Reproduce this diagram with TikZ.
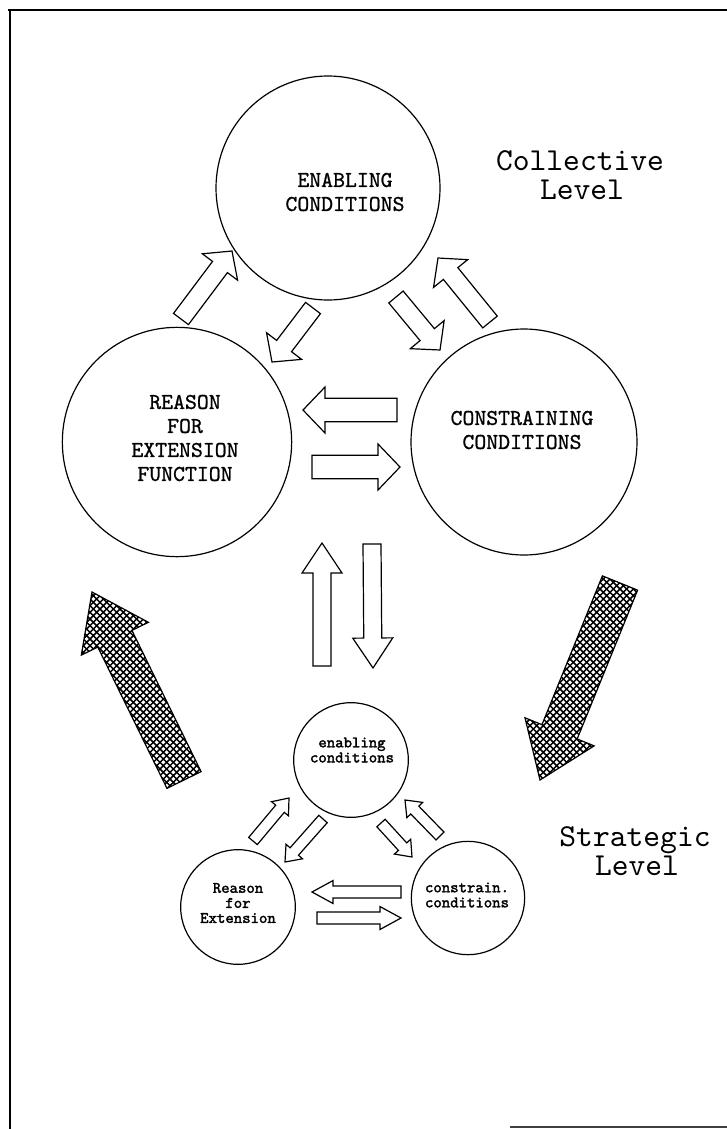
\documentclass[tikz,border=0pt]{standalone}
\usepackage{fontspec}
\newfontfamily\lmcap{lmmono10-regular.otf}[FakeBold=0.9]
\newfontfamily\lmsmall{lmmono10-regular.otf}[FakeBold=2]
\newfontfamily\lmlevel{lmmono10-regular.otf}
\usetikzlibrary{calc,patterns}
\pgfdeclarepatternformonly{xhatch}{\pgfqpoint{-0.5pt}{-0.5pt}}{\pgfqpoint{5.5pt}{5.5pt}}{\pgfqpoint{5pt}{5pt}}{%
  \pgfsetlinewidth{1.1pt}%
  \pgfpathmoveto{\pgfqpoint{-0.5pt}{-0.5pt}}\pgfpathlineto{\pgfqpoint{5.5pt}{5.5pt}}%
  \pgfpathmoveto{\pgfqpoint{-0.5pt}{5.5pt}}\pgfpathlineto{\pgfqpoint{5.5pt}{-0.5pt}}%
  \pgfusepath{stroke}}
% #1 style, #2 tail, #3 tip, #4 shaft half width, #5 head half width, #6 head length
\newcommand\blockarrow[6]{%
  \path (#2) coordinate (ba-a) (#3) coordinate (ba-b);
  \path ($(ba-b)!#6!(ba-a)$) coordinate (ba-h);
  \draw[#1] ($(ba-a)!#4!90:(ba-b)$) -- ($(ba-h)!#4!90:(ba-b)$) -- ($(ba-h)!#5!90:(ba-b)$)
    -- (ba-b) -- ($(ba-h)!#5!-90:(ba-b)$) -- ($(ba-h)!#4!-90:(ba-b)$)
    -- ($(ba-a)!#4!-90:(ba-b)$) -- cycle;}
\tikzset{
  bigcirc/.style={draw, circle, line width=0.9pt, inner sep=0pt},
  bigtxt/.style={font=\lmcap\fontsize{17}{18}\selectfont, align=center, inner sep=0pt},
  smalltxt/.style={font=\lmsmall\fontsize{12}{11.3}\selectfont, align=center, inner sep=0pt},
  leveltxt/.style={font=\lmlevel\fontsize{24}{24}\selectfont, inner sep=0pt, anchor=base},
  openarrow/.style={draw, fill=white, line width=0.9pt, line join=miter},
  hatcharrow/.style={draw, pattern=xhatch, line width=0.9pt, line join=miter},
}
\begin{document}
\begin{tikzpicture}[x=0.75pt, y=-0.75pt]
\useasboundingbox (0,0) rectangle (727,1129);
% frame
\draw[line width=1.6pt] (8,10) -- (727,10);
\draw[line width=1.6pt] (10,9) -- (10,1129);
\draw[line width=1.2pt, black!75] (510,1127) -- (727,1127);

% big circles
\node[bigcirc, minimum size=168pt] (EN) at (328,188) {};
\node[bigcirc, minimum size=172pt] (RE) at (177,442) {};
\node[bigcirc, minimum size=169.5pt] (CO) at (524,442) {};
\node[bigtxt] (ENt) at (345,192) {ENABLING\\CONDITIONS};
\node[bigtxt] (REt) at (185,438) {REASON\\FOR\\EXTENSION\\FUNCTION};
\node[bigtxt] (COt) at (522,430) {CONSTRAINING\\CONDITIONS};

\node[leveltxt] (coll) at (580,170) {Collective};
\node[leveltxt] (colllev) at (582,199) {Level};
\node[leveltxt] (strat) at (635,846) {Strategic};
\node[leveltxt] (stratlev) at (637,875) {Level};

% top-level open arrows
\coordinate (a1t) at (181,319); \coordinate (a1h) at (232,251);
\coordinate (a2t) at (313,308); \coordinate (a2h) at (272,362);
\coordinate (a3t) at (396,297); \coordinate (a3h) at (440,350);
\coordinate (a4t) at (490,322); \coordinate (a4h) at (438,258);
\blockarrow{openarrow}{a1t}{a1h}{7pt}{16.5pt}{15pt}
\blockarrow{openarrow}{a2t}{a2h}{7pt}{16.5pt}{15pt}
\blockarrow{openarrow}{a3t}{a3h}{7pt}{16.5pt}{15pt}
\blockarrow{openarrow}{a4t}{a4h}{7pt}{16.5pt}{15pt}
\coordinate (h1t) at (397,410); \coordinate (h1h) at (303,410);
\coordinate (h2t) at (312,467); \coordinate (h2h) at (400,467);
\blockarrow{openarrow}{h1t}{h1h}{8.75pt}{17.25pt}{16.5pt}
\blockarrow{openarrow}{h2t}{h2h}{8.75pt}{17.25pt}{16.5pt}
\coordinate (v1t) at (322,666); \coordinate (v1h) at (322,543);
\coordinate (v2t) at (372,544); \coordinate (v2h) at (373,668);
\blockarrow{openarrow}{v1t}{v1h}{6.75pt}{15pt}{22.5pt}
\blockarrow{openarrow}{v2t}{v2h}{6.75pt}{15pt}{22.5pt}

% hatched arrows
\coordinate (x1t) at (184,780); \coordinate (x1h) at (92,592);
\coordinate (x2t) at (620,583); \coordinate (x2h) at (540,780);
\blockarrow{hatcharrow}{x1t}{x1h}{14.25pt}{28pt}{39pt}
\blockarrow{hatcharrow}{x2t}{x2h}{14.25pt}{28pt}{39pt}

% small circles
\node[bigcirc, minimum size=86pt] (en) at (351,760) {};
\node[bigcirc, minimum size=86pt] (re) at (238,907) {};
\node[bigcirc, minimum size=85pt] (co) at (468,898) {};
\node[smalltxt] (ent) at (352,750) {enabling\\conditions};
\node[smalltxt] (ret) at (238,903) {Reason\\for\\Extension};
\node[smalltxt] (cot) at (467,895) {constrain.\\conditions};

% small open arrows
\coordinate (b1t) at (253,841); \coordinate (b1h) at (289,798);
\coordinate (b2t) at (323,819); \coordinate (b2h) at (285,862);
\coordinate (b3t) at (381,823); \coordinate (b3h) at (412,857);
\coordinate (b4t) at (440,836); \coordinate (b4h) at (405,800);
\blockarrow{openarrow}{b1t}{b1h}{4.2pt}{8.25pt}{10.5pt}
\blockarrow{openarrow}{b2t}{b2h}{4.2pt}{8.25pt}{10.5pt}
\blockarrow{openarrow}{b3t}{b3h}{4.2pt}{8.25pt}{10.5pt}
\blockarrow{openarrow}{b4t}{b4h}{4.2pt}{8.25pt}{10.5pt}
\coordinate (c1t) at (401,892); \coordinate (c1h) at (312,892);
\coordinate (c2t) at (317,918); \coordinate (c2h) at (401,918);
\blockarrow{openarrow}{c1t}{c1h}{4.5pt}{8.6pt}{15.75pt}
\blockarrow{openarrow}{c2t}{c2h}{4.5pt}{8.6pt}{15.75pt}
\end{tikzpicture}
\end{document}
